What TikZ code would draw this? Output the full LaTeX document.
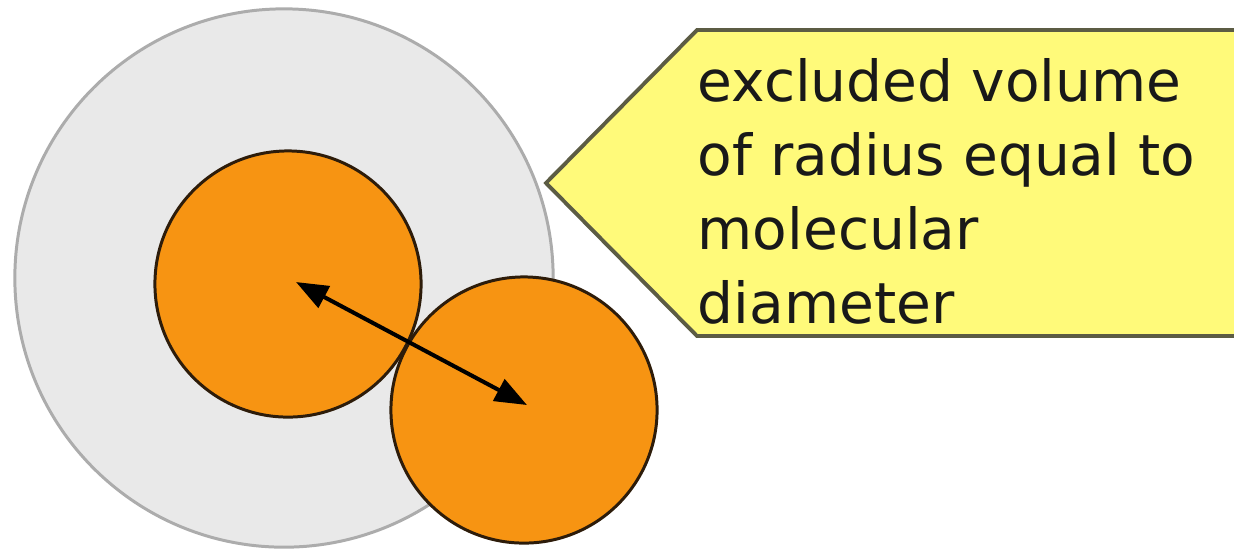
\documentclass[tikz,border=0pt]{standalone}
\usepackage{fontspec}
\setmainfont{DejaVu Sans}
\usetikzlibrary{arrows.meta}
\definecolor{molfill}{RGB}{247,148,18}
\definecolor{moledge}{RGB}{45,28,10}
\definecolor{exclfill}{RGB}{233,233,233}
\definecolor{excledge}{RGB}{172,172,172}
\definecolor{notefill}{RGB}{255,250,122}
\definecolor{noteedge}{RGB}{92,92,68}
\tikzset{
  >={Triangle[length=3.2mm,width=2.4mm]},
  excl/.style={circle,draw=excledge,fill=exclfill,line width=0.85pt,minimum size=5.38cm,inner sep=0pt},
  mol/.style={circle,draw=moledge,fill=molfill,line width=0.85pt,minimum size=2.66cm,inner sep=0pt},
  callout/.style={draw=noteedge,fill=notefill,line width=1.1pt,line join=miter},
  note/.style={align=left,inner sep=0pt,font=\fontsize{16.1}{21}\selectfont,text=black!90},
}
\begin{document}
\begin{tikzpicture}[x=0.01cm,y=-0.01cm]
\useasboundingbox (0,0) rectangle (1234,550);
\node[excl] (ev) at (284,278){};
\node[mol] (m1) at (288,284){}; \node[mol] (m2) at (524,410){};
\draw[<->,line width=1.15pt] ([shift={(8,-2)}]m1.center)--([shift={(3,-5)}]m2.center);
\coordinate (tip) at (546,183); \coordinate (tl) at (697,30); \coordinate (bl) at (697,336);
\draw[callout] (tip)--(tl)--(1250,30)--(1250,336)--(bl)--cycle;
% anchor on the baseline of the last line
\node[note,anchor=base west] (lbl) at (697,323){excluded volume\\of radius equal to\\molecular\\diameter};
\end{tikzpicture}
\end{document}
